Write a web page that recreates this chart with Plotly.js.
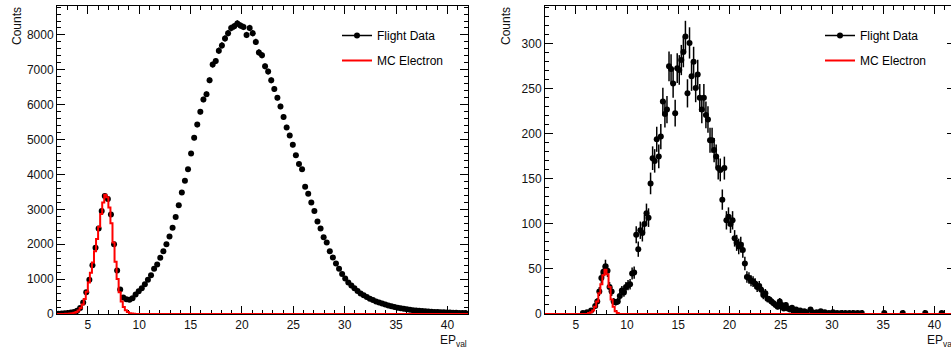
<!DOCTYPE html>
<html><head><meta charset="utf-8">
<script src="https://cdn.plot.ly/plotly-3.0.1.min.js"></script>
<style>html,body{margin:0;padding:0;overflow:hidden;background:#fff}#chart{width:965px;height:349px}</style>
</head><body><div id="chart"></div>
<script>
// ---- Left panel: Flight Data (bin centres, counts) ----
const leftX = [
  2.15, 2.45, 2.75, 3.05, 3.35, 3.65, 3.95, 4.25, 4.55, 4.85,
  5.15, 5.45, 5.75, 6.05, 6.35, 6.65, 6.95, 7.25, 7.55, 7.85,
  8.15, 8.45, 8.75, 9.05, 9.35, 9.65, 9.95, 10.25, 10.55, 10.85,
  11.15, 11.45, 11.75, 12.05, 12.35, 12.65, 12.95, 13.25, 13.55, 13.85,
  14.15, 14.45, 14.75, 15.05, 15.35, 15.65, 15.95, 16.25, 16.55, 16.85,
  17.15, 17.45, 17.75, 18.05, 18.35, 18.65, 18.95, 19.25, 19.55, 19.85,
  20.15, 20.45, 20.75, 21.05, 21.35, 21.65, 21.95, 22.25, 22.55, 22.85,
  23.15, 23.45, 23.75, 24.05, 24.35, 24.65, 24.95, 25.25, 25.55, 25.85,
  26.15, 26.45, 26.75, 27.05, 27.35, 27.65, 27.95, 28.25, 28.55, 28.85,
  29.15, 29.45, 29.75, 30.05, 30.35, 30.65, 30.95, 31.25, 31.55, 31.85,
  32.15, 32.45, 32.75, 33.05, 33.35, 33.65, 33.95, 34.25, 34.55, 34.85,
  35.15, 35.45, 35.75, 36.05, 36.35, 36.65, 36.95, 37.25, 37.55, 37.85,
  38.15, 38.45, 38.75, 39.05, 39.35, 39.65, 39.95, 40.25, 40.55, 40.85,
  41.15, 41.45, 41.75
];
const leftY = [
  10, 15, 20, 30, 40, 55, 90, 170, 330, 620,
  980, 1400, 1900, 2450, 2950, 3380, 3300, 2850, 2000, 1250,
  700, 470, 420, 410, 450, 560, 650, 740, 850, 980,
  1110, 1300, 1420, 1610, 1800, 2000, 2220, 2470, 2780, 3120,
  3480, 3820, 4150, 4600, 5050, 5430, 5800, 6150, 6300, 6700,
  7150, 7250, 7550, 7700, 7900, 8050, 8200, 8250, 8330, 8270,
  8230, 8000, 8200, 8050, 7800, 7500, 7420, 7100, 6950, 6700,
  6450, 6200, 5950, 5650, 5350, 5120, 4850, 4550, 4300, 4150,
  3650, 3450, 3200, 2950, 2650, 2450, 2200, 2050, 1800, 1620,
  1450, 1300, 1150, 1020, 900, 820, 740, 660, 590, 540,
  490, 440, 400, 360, 330, 300, 270, 245, 220, 200,
  180, 165, 150, 135, 120, 110, 100, 92, 85, 78,
  70, 65, 60, 55, 50, 47, 44, 40, 37, 35,
  32, 30, 28
];
// ---- Left panel: MC Electron ----
const mcLeftX = [2.0, 2.3, 2.5, 2.7, 2.9, 3.1, 3.3, 3.5, 3.7, 3.9, 4.1, 4.3, 4.5, 4.7, 4.9, 5.1, 5.3, 5.5, 5.7, 5.9,
  6.1, 6.3, 6.5, 6.7, 6.9, 7.1, 7.3, 7.5, 7.7, 7.9, 8.1, 8.3, 8.5, 8.7, 8.9, 9.1, 9.3, 9.5, 9.7, 9.9, 42];
const mcLeftY = [0, 0, 2, 3, 5, 8, 12, 20, 35, 60, 100, 170, 270, 430, 640, 900, 1180, 1480, 1800, 2150,
  2500, 2870, 3200, 3420, 3350, 3050, 2600, 2050, 1500, 1000, 620, 360, 200, 105, 55, 25, 12, 5, 2, 0, 0];

// ---- Right panel: Flight Data ----
const rightX = [
  5.7, 6.1, 6.5, 6.9, 7.1, 7.3, 7.5, 7.7, 7.9, 8.1,
  8.3, 8.5, 8.7, 8.9, 9.1, 9.3, 9.5, 9.7, 9.9, 10.1,
  10.3, 10.5, 10.7, 10.9, 11.1, 11.3, 11.5, 11.7, 11.9, 12.1,
  12.3, 12.5, 12.7, 12.9, 13.1, 13.3, 13.5, 13.7, 13.9, 14.1,
  14.3, 14.5, 14.7, 14.9, 15.1, 15.3, 15.5, 15.7, 15.9, 16.1,
  16.3, 16.5, 16.7, 16.9, 17.1, 17.3, 17.5, 17.7, 17.9, 18.1,
  18.3, 18.5, 18.7, 18.9, 19.1, 19.3, 19.5, 19.7, 19.9, 20.1,
  20.3, 20.5, 20.7, 20.9, 21.1, 21.3, 21.5, 21.7, 21.9, 22.1,
  22.3, 22.5, 22.7, 22.9, 23.1, 23.3, 23.5, 23.7, 23.9, 24.1,
  24.3, 24.5, 24.7, 24.9, 25.1, 25.3, 25.5, 25.7, 25.9, 26.1,
  26.3, 26.5, 26.7, 26.9, 27.1, 27.3, 27.5, 27.9, 28.1, 28.5,
  28.9, 29.3, 29.7, 30.1, 30.5, 30.9, 31.3, 31.7, 32.1, 32.5,
  32.9, 35.1, 36.9, 39.1, 40.7
];
const rightY = [
  1, 2, 4, 9, 14, 25, 40, 47, 53, 48,
  30, 25, 14, 13, 14, 20, 26, 24, 30, 32,
  33, 45, 46, 88, 72, 93, 90, 100, 112, 107,
  145, 173, 170, 194, 175, 197, 236, 222, 227, 275,
  272, 256, 223, 273, 271, 282, 291, 308, 245, 301,
  264, 280, 251, 266, 240, 227, 240, 221, 216, 193,
  193, 182, 175, 162, 160, 127, 162, 104, 108, 100,
  104, 84, 79, 75, 77, 71, 56, 41, 40, 37,
  36, 34, 30, 31, 27, 21, 23, 17, 16, 14,
  12, 10, 8, 14, 10, 6, 10, 6, 5, 7,
  4, 5, 3, 4, 2, 3, 2, 5, 2, 2,
  3, 2, 1, 2, 1, 1, 1, 1, 1, 1,
  1, 1, 1, 1, 1
];
// ---- Right panel: MC Electron ----
const mcRightX = [2.0, 6.1, 6.3, 6.5, 6.7, 6.9, 7.1, 7.3, 7.5, 7.7, 7.9, 8.1, 8.3, 8.5, 8.7, 8.9, 9.1, 9.3, 42];
const mcRightY = [0, 0, 1, 2, 4, 8, 14, 23, 33, 43, 49, 44, 30, 16, 8, 3, 1, 0, 0];

const xTickStep = 5, xMinorStep = 1;
const leftYTickStep = 1000, leftYMinorStep = 200;
const rightYTickStep = 50, rightYMinorStep = 10;
const seriesNames = ['Flight Data', 'MC Electron'];

// ---- Layout helpers ----
const W = 965, H = 349;
const px = v => v / W;
const py = v => (H - v) / H;
const FONT = '"Liberation Sans", Arial, Helvetica, sans-serif';

function xAxis(domain){
  return {domain: domain, range: [2, 42], tick0: 0, dtick: xTickStep,
    ticks: 'inside', ticklen: 8, tickwidth: 1, tickcolor: '#000',
    showline: true, linecolor: '#000', linewidth: 1, mirror: 'allticks',
    showgrid: false, zeroline: false, layer: 'below traces', fixedrange: true,
    minor: {dtick: xMinorStep, ticks: 'inside', ticklen: 4, tickcolor: '#000', showgrid: false},
    tickfont: {family: FONT, size: 12, color: '#111'}};
}
function yAxis(range, step, minor, anchor){
  return {domain: [py(314), py(6)], range: range, tick0: 0, dtick: step, anchor: anchor,
    ticks: 'inside', ticklen: 8, tickwidth: 1, tickcolor: '#000',
    showline: true, linecolor: '#000', linewidth: 1, mirror: 'allticks',
    showgrid: false, zeroline: false, layer: 'below traces', fixedrange: true,
    minor: {dtick: minor, ticks: 'inside', ticklen: 4, tickcolor: '#000', showgrid: false},
    tickfont: {family: FONT, size: 12, color: '#111'}};
}

function panel(dx, dy, mx, my, xa, ya, lg){
  return [
    {x: [null], y: [null], mode: 'lines+markers', name: seriesNames[0], xaxis: xa, yaxis: ya,
     legend: lg, legendgroup: lg + 'a', line: {color: '#000', width: 1.5}, marker: {color: '#000', size: 6}, hoverinfo: 'skip'},
    {x: dx, y: dy, mode: 'markers', showlegend: false, xaxis: xa, yaxis: ya,
     marker: {color: '#000', size: 6, symbol: 'circle'},
     error_y: {type: 'sqrt', visible: true, width: 0, thickness: 1.5, color: '#000'}},
    {x: mx, y: my, mode: 'lines', name: seriesNames[1], xaxis: xa, yaxis: ya,
     legend: lg, legendgroup: lg + 'b', line: {color: '#ff0000', width: 2, shape: 'hvh'}, hoverinfo: 'skip'}
  ];
}

const data = [].concat(
  panel(leftX, leftY, mcLeftX, mcLeftY, 'x', 'y', 'legend'),
  panel(rightX, rightY, mcRightX, mcRightY, 'x2', 'y2', 'legend2')
);

const legendBase = {yanchor: 'top', xanchor: 'left', bgcolor: 'rgba(0,0,0,0)', borderwidth: 0,
  font: {family: FONT, size: 12, color: '#000'}, traceorder: 'grouped', tracegroupgap: 6};

const layout = {
  width: W, height: H, margin: {l: 0, r: 0, t: 0, b: 0},
  paper_bgcolor: '#fff', plot_bgcolor: '#fff', showlegend: true,
  font: {family: FONT, color: '#000'},
  xaxis: xAxis([px(57), px(468)]),
  yaxis: yAxis([0, 8830], leftYTickStep, leftYMinorStep, 'x'),
  xaxis2: Object.assign(xAxis([px(545), px(955)]), {anchor: 'y2'}),
  yaxis2: yAxis([0, 342], rightYTickStep, rightYMinorStep, 'x2'),
  legend: Object.assign({x: px(337), y: py(21)}, legendBase),
  legend2: Object.assign({x: px(820), y: py(21)}, legendBase),
  annotations: [
    {text: 'Counts', xref: 'paper', yref: 'paper', x: px(17), y: py(26), textangle: -90,
     showarrow: false, xanchor: 'center', yanchor: 'middle', font: {family: FONT, size: 12, color: '#111'}},
    {text: 'Counts', xref: 'paper', yref: 'paper', x: px(506), y: py(26), textangle: -90,
     showarrow: false, xanchor: 'center', yanchor: 'middle', font: {family: FONT, size: 12, color: '#111'}},
    {text: 'EP<sub>val</sub>', xref: 'paper', yref: 'paper', x: px(469), y: py(341),
     showarrow: false, xanchor: 'right', yanchor: 'middle', font: {family: FONT, size: 12, color: '#111'}},
    {text: 'EP<sub>val</sub>', xref: 'paper', yref: 'paper', x: px(956), y: py(341),
     showarrow: false, xanchor: 'right', yanchor: 'middle', font: {family: FONT, size: 12, color: '#111'}}
  ]
};

Plotly.newPlot('chart', data, layout, {staticPlot: true, displayModeBar: false});
</script>
</body></html>
